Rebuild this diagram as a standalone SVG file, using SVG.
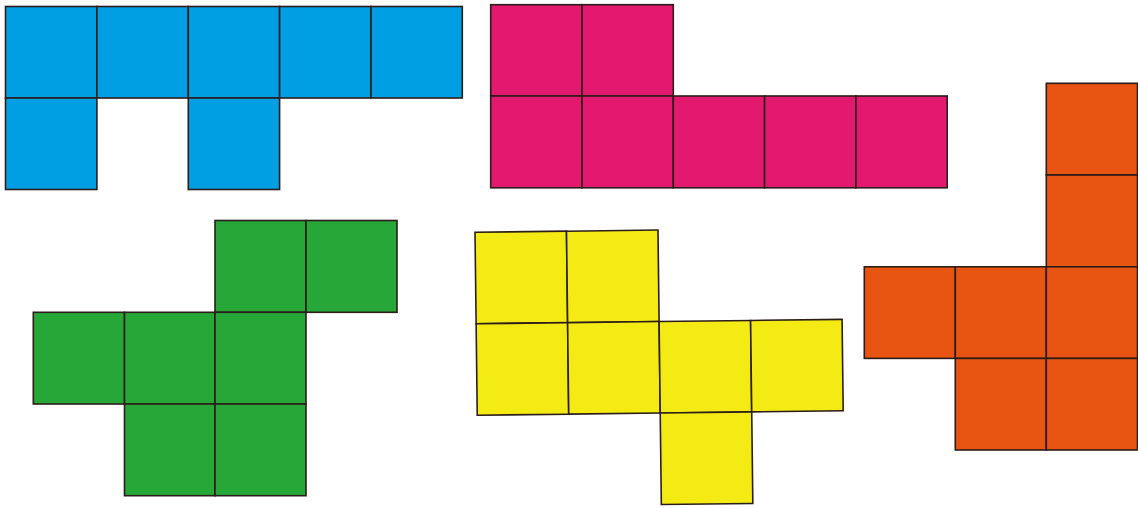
<svg xmlns="http://www.w3.org/2000/svg" width="1138" height="508" viewBox="0 0 1138 508">
<style>
rect{stroke:#2b1d1a;stroke-width:1.6;stroke-linejoin:miter}
.b{fill:#009fe3}
.m{fill:#e3186f}
.g{fill:#26a737}
.y{fill:#f4ea14}
.o{fill:#e85412}
</style>
<rect width="1138" height="508" fill="#ffffff" style="stroke:none"/>
<g id="blue">
<rect class="b" x="5.5" y="6.5" width="91.4" height="91.5"/>
<rect class="b" x="96.9" y="6.5" width="91.4" height="91.5"/>
<rect class="b" x="188.3" y="6.5" width="91.3" height="91.5"/>
<rect class="b" x="279.6" y="6.5" width="91.4" height="91.5"/>
<rect class="b" x="371" y="6.5" width="91.3" height="91.5"/>
<rect class="b" x="5.5" y="98" width="91.4" height="91.5"/>
<rect class="b" x="188.3" y="98" width="91.3" height="91.5"/>
</g>
<g id="magenta">
<rect class="m" x="490.7" y="4.7" width="91.3" height="91.3"/>
<rect class="m" x="582" y="4.7" width="91.3" height="91.3"/>
<rect class="m" x="490.7" y="96" width="91.3" height="91.8"/>
<rect class="m" x="582" y="96" width="91.3" height="91.8"/>
<rect class="m" x="673.3" y="96" width="91.3" height="91.8"/>
<rect class="m" x="764.6" y="96" width="91.3" height="91.8"/>
<rect class="m" x="855.9" y="96" width="91.3" height="91.8"/>
</g>
<g id="orange">
<rect class="o" x="1046.3" y="83.3" width="91.2" height="91.7"/>
<rect class="o" x="1046.3" y="175" width="91.2" height="91.8"/>
<rect class="o" x="864.3" y="266.8" width="91" height="91.6"/>
<rect class="o" x="955.3" y="266.8" width="91" height="91.6"/>
<rect class="o" x="1046.3" y="266.8" width="91.2" height="91.6"/>
<rect class="o" x="955.3" y="358.4" width="91" height="91.6"/>
<rect class="o" x="1046.3" y="358.4" width="91.2" height="91.6"/>
</g>
<g id="green">
<rect class="g" x="215" y="220.5" width="91" height="91.8"/>
<rect class="g" x="306" y="220.5" width="91" height="91.8"/>
<rect class="g" x="33.3" y="312.3" width="91.2" height="91.7"/>
<rect class="g" x="124.5" y="312.3" width="90.5" height="91.7"/>
<rect class="g" x="215" y="312.3" width="91" height="91.7"/>
<rect class="g" x="124.5" y="404" width="90.5" height="91.7"/>
<rect class="g" x="215" y="404" width="91" height="91.7"/>
</g>
<g id="yellow" transform="translate(475 232.3) rotate(-0.7)">
<rect class="y" x="0" y="0" width="91.5" height="91.5"/>
<rect class="y" x="91.5" y="0" width="91.5" height="91.5"/>
<rect class="y" x="0" y="91.5" width="91.5" height="91.5"/>
<rect class="y" x="91.5" y="91.5" width="91.5" height="91.5"/>
<rect class="y" x="183" y="91.5" width="91.5" height="91.5"/>
<rect class="y" x="274.5" y="91.5" width="91.5" height="91.5"/>
<rect class="y" x="183" y="183" width="91.5" height="91.5"/>
</g>
<g id="connectors"/>
</svg>
